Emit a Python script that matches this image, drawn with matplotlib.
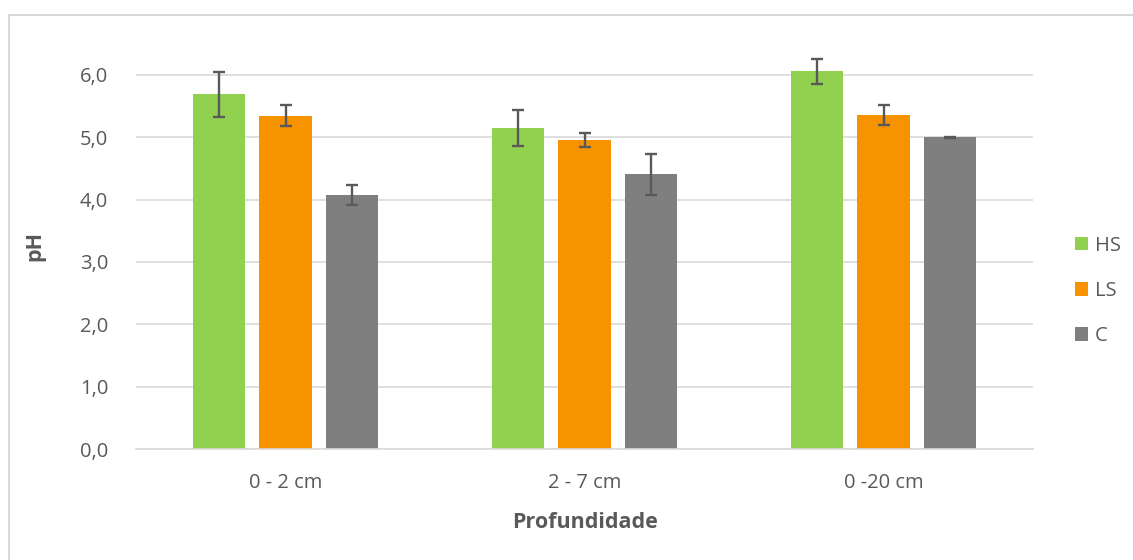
import matplotlib
matplotlib.use("Agg")
import matplotlib.pyplot as plt
from matplotlib.patches import Rectangle
import numpy as np

categories = ["0 - 2 cm", "2 - 7 cm", "0 -20 cm"]
series = ["HS", "LS", "C"]
hs_values = [5.69, 5.15, 6.06]
ls_values = [5.35, 4.96, 5.36]
c_values = [4.07, 4.41, 5.00]
hs_err = [0.36, 0.29, 0.20]
ls_err = [0.17, 0.11, 0.16]
c_err = [0.16, 0.33, 0.01]
yticks = [0.0, 1.0, 2.0, 3.0, 4.0, 5.0, 6.0]
ytick_labels = ["0,0", "1,0", "2,0", "3,0", "4,0", "5,0", "6,0"]

colors = ["#92d050", "#f79200", "#7f7f7f"]
text_color = "#595959"
grid_color = "#d9d9d9"

plt.rcParams["font.family"] = ["Open Sans", "DejaVu Sans"]

W, H = 1133, 560
fig = plt.figure(figsize=(W / 100, H / 100), dpi=100)

# chart-area frame (continues past the right and bottom edges)
fig.patches.append(Rectangle((9 / W, -0.05), 1.2, 1 - 15 / H + 0.05,
                             transform=fig.transFigure, fill=False,
                             edgecolor="#d9d9d9", linewidth=1.5))

ymax = 6.5
px_per_unit = (449 - 75) / 6.0
left, right = 136 / W, 1033 / W
bottom = 1 - 449 / H
top = 1 - (449 - ymax * px_per_unit) / H
ax = fig.add_axes([left, bottom, right - left, top - bottom])

x = np.arange(len(categories))
width = 0.174
offsets = [-0.222, 0.0, 0.222]
values = [hs_values, ls_values, c_values]
errors = [hs_err, ls_err, c_err]

for name, vals, errs, col, off in zip(series, values, errors, colors, offsets):
    ax.bar(x + off, vals, width, color=col, label=name, zorder=2)
    ax.errorbar(x + off, vals, yerr=errs, fmt="none", ecolor="#595959",
                elinewidth=1.7, capsize=4.5, capthick=1.7, zorder=3)

ax.set_xlim(-0.5, 2.5)
ax.set_ylim(0, ymax)
ax.set_yticks(yticks)
ax.set_yticklabels(ytick_labels)
ax.set_xticks(x)
ax.set_xticklabels(categories)
ax.yaxis.grid(True, color=grid_color, linewidth=1.2, zorder=0)
ax.set_axisbelow(True)
for side in ["top", "right", "left"]:
    ax.spines[side].set_visible(False)
ax.spines["bottom"].set_color(grid_color)
ax.spines["bottom"].set_linewidth(1.2)
ax.tick_params(axis="both", length=0, colors=text_color, labelsize=14.5)
ax.tick_params(axis="y", pad=20)
ax.tick_params(axis="x", pad=17)

ax.set_ylabel("pH", fontsize=15.5, fontweight="bold", color=text_color, labelpad=25)
ax.set_xlabel("Profundidade", fontsize=15.5, fontweight="bold", color=text_color, labelpad=14)

leg = fig.legend(*ax.get_legend_handles_labels(), loc="center left",
                 bbox_to_anchor=(1075 / W, 1 - 291 / H),
                 bbox_transform=fig.transFigure, frameon=False,
                 fontsize=14.5, handlelength=0.65, handleheight=0.65,
                 handletextpad=0.35, labelspacing=1.25,
                 borderpad=0, borderaxespad=0)
for t in leg.get_texts():
    t.set_color(text_color)

fig.savefig("out.png", dpi=100)
